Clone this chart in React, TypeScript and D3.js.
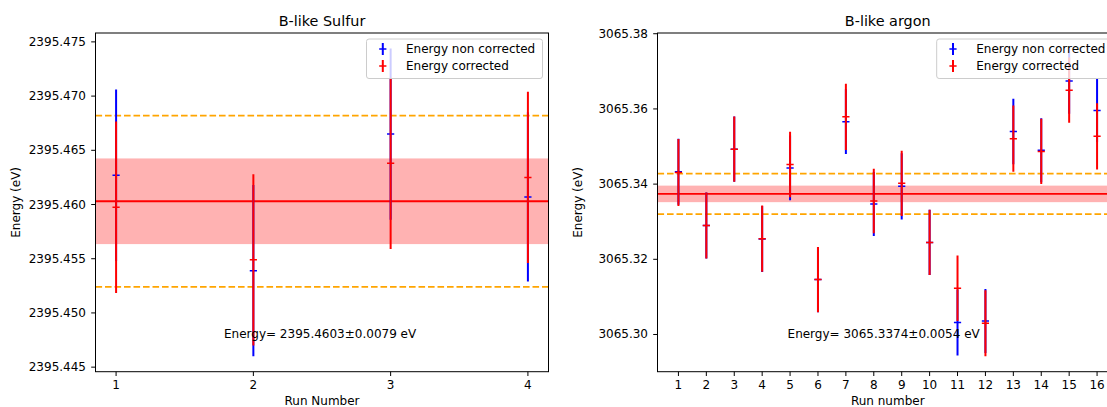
import React from 'react';
import * as d3 from 'd3';

// ---------- Data ----------
const sulfurRuns = [1, 2, 3, 4];
const sulfurNonCorrected = [2395.4627, 2395.4539, 2395.4665, 2395.4607];
const sulfurNonCorrectedErr = [0.0079, 0.0079, 0.0079, 0.0078];
const sulfurCorrected = [2395.45975, 2395.4549, 2395.4638, 2395.4625];
const sulfurCorrectedErr = [0.0079, 0.0079, 0.0079, 0.0079];
const sulfurMean = 2395.4603;
const sulfurSpread = 0.0079;
const sulfurBand = 0.00395;
const sulfurYTicks = [2395.445, 2395.45, 2395.455, 2395.46, 2395.465, 2395.47, 2395.475];

const argonRuns = [1, 2, 3, 4, 5, 6, 7, 8, 9, 10, 11, 12, 13, 14, 15, 16];
const argonNonCorrected = [
  3065.3433, 3065.329, 3065.3493, 3065.3254, 3065.3443, 3065.3146, 3065.3566, 3065.3347,
  3065.3394, 3065.3245, 3065.3032, 3065.3036, 3065.354, 3065.349, 3065.3674, 3065.3596,
];
const argonNonCorrectedErr = [
  0.0088, 0.0088, 0.0087, 0.0088, 0.0086, 0.0087, 0.0086, 0.0085,
  0.0088, 0.0087, 0.0088, 0.0085, 0.0087, 0.0085, 0.0087, 0.0084,
];
const argonCorrected = [
  3065.3431, 3065.329, 3065.3493, 3065.3255, 3065.3452, 3065.3146, 3065.3579, 3065.3355,
  3065.3402, 3065.3245, 3065.3123, 3065.303, 3065.3521, 3065.3487, 3065.365, 3065.3527,
];
const argonCorrectedErr = [
  0.0089, 0.0088, 0.0087, 0.0088, 0.0087, 0.0087, 0.0088, 0.0086,
  0.0087, 0.0087, 0.0087, 0.0088, 0.0088, 0.0087, 0.0087, 0.0088,
];
const argonMean = 3065.3374;
const argonSpread = 0.0054;
const argonBand = 0.0022;
const argonYTicks = [3065.3, 3065.32, 3065.34, 3065.36, 3065.38];

const legendLabels = ['Energy non corrected', 'Energy corrected'];
const seriesColors = ['#0000ff', '#ff0000'];

const FONT = "'DejaVu Sans', sans-serif";

type PanelProps = {
  id: string;
  title: string;
  xLabel: string;
  runs: number[];
  nc: number[];
  ncErr: number[];
  c: number[];
  cErr: number[];
  mean: number;
  spread: number;
  band: number;
  yTicks: number[];
  yDecimals: number;
  left: number;
  right: number;
  top: number;
  bottom: number;
  textX: number;
  textY: number;
  legendW: number;
};

function Panel(p: PanelProps) {
  const first = p.runs[0];
  const last = p.runs[p.runs.length - 1];
  const xm = (last - first) * 0.05;
  const x = d3.scaleLinear().domain([first - xm, last + xm]).range([p.left, p.right]);
  const lows = [...p.nc.map((v, i) => v - p.ncErr[i]), ...p.c.map((v, i) => v - p.cErr[i])];
  const highs = [...p.nc.map((v, i) => v + p.ncErr[i]), ...p.c.map((v, i) => v + p.cErr[i])];
  const lo = d3.min(lows) as number;
  const hi = d3.max(highs) as number;
  const ym = (hi - lo) * 0.05;
  const y = d3.scaleLinear().domain([lo - ym, hi + ym]).range([p.bottom, p.top]);

  const series = [
    { v: p.nc, e: p.ncErr, color: seriesColors[0] },
    { v: p.c, e: p.cErr, color: seriesColors[1] },
  ];
  const clipId = `clip-${p.id}`;
  const cx = (p.left + p.right) / 2;
  const legRight = p.right - 6;
  const legLeft = legRight - p.legendW;
  const legTop = p.top + 6;
  const legBottom = legTop + 39.5;

  return (
    <g>
      <defs>
        <clipPath id={clipId}>
          <rect x={p.left} y={p.top} width={p.right - p.left} height={p.bottom - p.top} />
        </clipPath>
      </defs>
      <g clipPath={`url(#${clipId})`}>
        <rect
          x={p.left}
          width={p.right - p.left}
          y={y(p.mean + p.band)}
          height={y(p.mean - p.band) - y(p.mean + p.band)}
          fill="#ff0000"
          fillOpacity={0.3}
        />
        {[p.mean + p.spread, p.mean - p.spread].map((v, i) => (
          <line
            key={i}
            x1={p.left}
            x2={p.right}
            y1={y(v)}
            y2={y(v)}
            stroke="#ffa500"
            strokeWidth={1.8}
            strokeDasharray="6.6,2.9"
          />
        ))}
        <line x1={p.left} x2={p.right} y1={y(p.mean)} y2={y(p.mean)} stroke="#ff0000" strokeWidth={1.8} />
        {series.map((s, si) => (
          <g key={si}>
            {s.v.map((v, i) => (
              <g key={i}>
                <line
                  x1={x(p.runs[i])}
                  x2={x(p.runs[i])}
                  y1={y(v - s.e[i])}
                  y2={y(v + s.e[i])}
                  stroke={s.color}
                  strokeWidth={2}
                />
                <line
                  x1={x(p.runs[i]) - 3.6}
                  x2={x(p.runs[i]) + 3.6}
                  y1={y(v)}
                  y2={y(v)}
                  stroke={s.color}
                  strokeWidth={1.5}
                />
              </g>
            ))}
          </g>
        ))}
      </g>
      {/* annotation */}
      <text x={x(p.textX)} y={y(p.textY)} dominantBaseline="central" fontFamily={FONT} fontSize={12} fill="#000">
        {`Energy= ${p.mean.toFixed(4)}±${p.spread.toFixed(4)} eV`}
      </text>
      {/* spines */}
      <rect
        x={p.left}
        y={p.top}
        width={p.right - p.left}
        height={p.bottom - p.top}
        fill="none"
        stroke="#000"
        strokeWidth={1}
      />
      {/* x ticks */}
      {p.runs.map((r) => (
        <g key={r}>
          <line x1={x(r)} x2={x(r)} y1={p.bottom} y2={p.bottom + 4.3} stroke="#000" strokeWidth={1} />
          <text x={x(r)} y={p.bottom + 17.5} textAnchor="middle" fontFamily={FONT} fontSize={12} fill="#000">
            {r}
          </text>
        </g>
      ))}
      {/* y ticks */}
      {p.yTicks.map((t) => (
        <g key={t}>
          <line x1={p.left - 4.3} x2={p.left} y1={y(t)} y2={y(t)} stroke="#000" strokeWidth={1} />
          <text
            x={p.left - 9.5}
            y={y(t)}
            textAnchor="end"
            dominantBaseline="central"
            fontFamily={FONT}
            fontSize={12}
            fill="#000"
          >
            {t.toFixed(p.yDecimals)}
          </text>
        </g>
      ))}
      {/* labels */}
      <text x={cx} y={26} textAnchor="middle" fontFamily={FONT} fontSize={14.4} fill="#000">
        {p.title}
      </text>
      <text x={cx} y={404.5} textAnchor="middle" fontFamily={FONT} fontSize={12} fill="#000">
        {p.xLabel}
      </text>
      <text
        transform={`translate(${p.left - 79.5},${(p.top + p.bottom) / 2}) rotate(-90)`}
        textAnchor="middle"
        dominantBaseline="central"
        fontFamily={FONT}
        fontSize={12}
        fill="#000"
      >
        Energy (eV)
      </text>
      {/* legend */}
      <rect
        x={legLeft}
        y={legTop}
        width={legRight - legLeft}
        height={legBottom - legTop}
        rx={2.5}
        fill="#ffffff"
        fillOpacity={0.8}
        stroke="#cccccc"
        strokeWidth={1}
      />
      {legendLabels.map((lab, i) => {
        const ly = legTop + 10 + i * 17;
        const hx = legLeft + 16.3;
        return (
          <g key={lab}>
            <line x1={hx} x2={hx} y1={ly - 6} y2={ly + 6} stroke={seriesColors[i]} strokeWidth={2} />
            <line x1={hx - 3.6} x2={hx + 3.6} y1={ly} y2={ly} stroke={seriesColors[i]} strokeWidth={1.5} />
            <text x={legLeft + 39.5} y={ly} dominantBaseline="central" fontFamily={FONT} fontSize={12} fill="#000">
              {lab}
            </text>
          </g>
        );
      })}
    </g>
  );
}

export default function App() {
  return (
    <svg
      width={1107}
      height={407}
      viewBox="0 0 1107 407"
      style={{ position: 'absolute', left: 0, top: 0, background: '#fff' }}
    >
      <rect x={0} y={0} width={1107} height={407} fill="#fff" />
      <Panel
        id="s"
        title="B-like Sulfur"
        xLabel="Run Number"
        runs={sulfurRuns}
        nc={sulfurNonCorrected}
        ncErr={sulfurNonCorrectedErr}
        c={sulfurCorrected}
        cErr={sulfurCorrectedErr}
        mean={sulfurMean}
        spread={sulfurSpread}
        band={sulfurBand}
        yTicks={sulfurYTicks}
        yDecimals={3}
        left={95.5}
        right={548.5}
        top={33}
        bottom={371.7}
        textX={1.786}
        textY={2395.44808}
        legendW={176}
      />
      <Panel
        id="a"
        title="B-like argon"
        xLabel="Run number"
        runs={argonRuns}
        nc={argonNonCorrected}
        ncErr={argonNonCorrectedErr}
        c={argonCorrected}
        cErr={argonCorrectedErr}
        mean={argonMean}
        spread={argonSpread}
        band={argonBand}
        yTicks={argonYTicks}
        yDecimals={2}
        left={657.5}
        right={1118}
        top={33}
        bottom={371.7}
        textX={4.91}
        textY={3065.3}
        legendW={175.3}
      />
    </svg>
  );
}
